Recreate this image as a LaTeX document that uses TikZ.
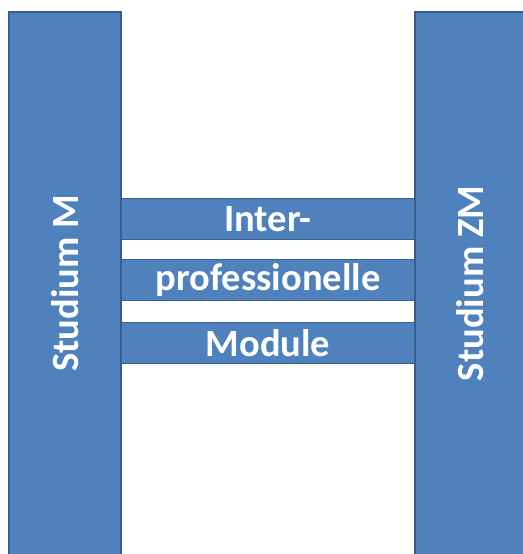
\documentclass[tikz,border=0pt]{standalone}
\usepackage{fontspec}
\setmainfont{Carlito}
\usepackage{xcolor}
\usetikzlibrary{positioning}

\definecolor{barfill}{HTML}{4F81BD}
\definecolor{barline}{HTML}{385D8A}

\tikzset{
  bar/.style={draw=barline, fill=barfill, line width=1.8pt, inner sep=0pt,
    text=white, font=\bfseries\fontsize{38.5}{42}\selectfont},
  crossbar/.style={bar, minimum width=296pt, minimum height=41pt},
  pillar/.style={bar, rotate=90, minimum width=543pt}
}

\begin{document}
\begin{tikzpicture}[x=1pt, y=-1pt]
                        \useasboundingbox (0, 0) rectangle (522, 554);
                        \node[crossbar] (inter) at (268, 219) {Inter-};
                        \node[crossbar] (prof) at (268, 280) {professionelle};
                        \node[crossbar] (mod) at (268, 343) {Module};
                        \node[pillar, minimum height=112pt] (m) at (65, 283.5) {Studium M};
                        \node[pillar, minimum height=110pt] (zm) at (470, 283.5) {Studium ZM};
                    \end{tikzpicture}
\end{document}
